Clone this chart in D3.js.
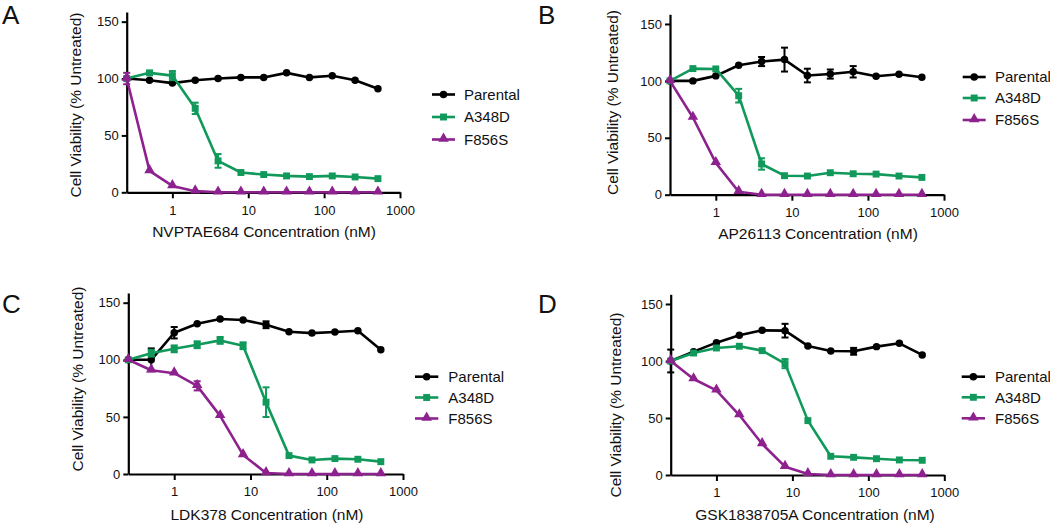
<!DOCTYPE html>
<html>
<head>
<meta charset="utf-8">
<script src="https://cdn.jsdelivr.net/npm/d3@7"></script>
<style>
  html, body { margin: 0; padding: 0; background: #fff; }
  svg { display: block; font-family: "Liberation Sans", Arial, Helvetica, sans-serif; }
</style>
</head>
<body>
<svg id="chart" width="1050" height="525"></svg>
<script>
// ---------- data ----------
const concentrations = [0.25, 0.5, 1, 2, 4, 8, 16, 32, 64, 128, 256, 512];
const seriesNames = ["Parental", "A348D", "F856S"];
const drugs = ["NVPTAE684", "AP26113", "LDK378", "GSK1838705A"];
const panelLetters = ["A", "B", "C", "D"];
const xTickValues = [1, 10, 100, 1000];
const yTickValues = [0, 50, 100, 150];

const A_parental = [100, 98.5, 96, 98.5, 100, 101, 101, 105, 101, 102.5, 98.5, 91];
const A_parental_err = [0, 0, 0, 0, 0, 0, 0, 0, 0, 0, 0, 0];
const A_a348d = [100, 105, 102.6, 73.8, 27.6, 17.4, 15.6, 14.4, 13.8, 14.4, 13.5, 12];
const A_a348d_err = [0, 1.5, 4, 5, 6, 0, 0, 0, 0, 0, 0, 0];
const A_f856s = [100, 18.8, 5.6, 1, 0, 0, 0, 0, 0, 0, 0, 0];
const A_f856s_err = [5, 0, 0, 0, 0, 0, 0, 0, 0, 0, 0, 0];

const B_parental = [100, 100, 104.4, 113.7, 117, 118.7, 104.7, 106, 108, 104, 105.8, 103.2];
const B_parental_err = [0, 0, 0, 0, 4, 10.5, 6, 4, 5, 0, 0, 0];
const B_a348d = [100, 110.8, 110.5, 87, 27, 16.7, 16.4, 19.3, 18.4, 18.1, 16.4, 15.2];
const B_a348d_err = [0, 0, 0, 6, 5, 0, 0, 0, 0, 0, 0, 0];
const B_f856s = [100, 67.8, 28, 2.6, 0, 0, 0, 0, 0, 0, 0, 0];
const B_f856s_err = [0, 0, 0, 0, 0, 0, 0, 0, 0, 0, 0, 0];

const C_parental = [100, 100, 123.7, 131.6, 135.7, 134.8, 130.7, 124.6, 123.4, 124.3, 125.4, 108.8];
const C_parental_err = [0, 10, 5, 0, 0, 0, 3, 0, 0, 0, 0, 0];
const C_a348d = [100, 105.8, 109.6, 113.2, 117, 112.3, 62.9, 16.1, 12.3, 13.5, 12.9, 10.8];
const C_a348d_err = [0, 3, 3, 3, 3, 3, 13, 0, 0, 0, 0, 0];
const C_f856s = [100, 90.9, 88.3, 77.2, 50.9, 16.7, 0.9, 0, 0, 0, 0, 0];
const C_f856s_err = [0, 0, 0, 4, 0, 0, 0, 0, 0, 0, 0, 0];

const D_parental = [100, 108.2, 116.1, 122.5, 126.9, 126.6, 113.2, 108.8, 108.5, 112.6, 115.5, 105.3];
const D_parental_err = [10, 0, 0, 0, 0, 6, 0, 0, 3, 0, 0, 0];
const D_a348d = [100, 107, 111.4, 112.9, 109.1, 97.7, 47.7, 16.4, 15.5, 14.3, 13.2, 12.9];
const D_a348d_err = [0, 0, 0, 0, 0, 4, 0, 0, 0, 0, 0, 0];
const D_f856s = [100, 84.2, 74.3, 52.6, 27.2, 7.3, 0.9, 0, 0, 0, 0, 0];
const D_f856s_err = [0, 0, 0, 0, 0, 0, 0, 0, 0, 0, 0, 0];

const panelValues = [
  [A_parental, A_a348d, A_f856s],
  [B_parental, B_a348d, B_f856s],
  [C_parental, C_a348d, C_f856s],
  [D_parental, D_a348d, D_f856s]
];
const panelErrors = [
  [A_parental_err, A_a348d_err, A_f856s_err],
  [B_parental_err, B_a348d_err, B_f856s_err],
  [C_parental_err, C_a348d_err, C_f856s_err],
  [D_parental_err, D_a348d_err, D_f856s_err]
];

// ---------- layout / style ----------
const colors = ["#000000", "#10995a", "#8d228f"];
const symbols = [d3.symbolCircle, d3.symbolSquare, d3.symbolTriangle];
const symbolSizes = [44, 48, 48];
const yMax = 158.5;
const layout = [
  { x0: 126.7, x1: 400, y0: 192.3, yTop: 12.0, letter: [2, 24], yTitle: [81, 105], xTitle: [264, 237],
    leg: { l1: 432, l2: 455, tx: 464, rows: [94.5, 117, 139.5] } },
  { x0: 670, x1: 944, y0: 194.7, yTop: 14.3, letter: [538, 24], yTitle: [618, 102.5], xTitle: [818, 239],
    leg: { l1: 962.7, l2: 985.7, tx: 995, rows: [77, 98, 120] } },
  { x0: 128.3, x1: 403, y0: 474, yTop: 293, letter: [2, 313], yTitle: [83, 379], xTitle: [267, 519.5],
    leg: { l1: 415, l2: 438.3, tx: 448.3, rows: [376.7, 397.5, 418.5] } },
  { x0: 670.7, x1: 944.3, y0: 475, yTop: 294.3, letter: [538, 313], yTitle: [621, 405], xTitle: [815, 520],
    leg: { l1: 961.7, l2: 985, tx: 995, rows: [376.7, 397.3, 418.3] } }
];

const svg = d3.select("#chart");

layout.forEach((L, p) => {
  const g = svg.append("g");
  const x = d3.scaleLog().domain([0.25, 1000]).range([L.x0, L.x1]);
  const y = d3.scaleLinear().domain([0, yMax]).range([L.y0, L.yTop]);

  // axes
  const xAxis = d3.axisBottom(x).tickValues(xTickValues).tickFormat(d3.format("d"))
    .tickSize(6).tickPadding(7).tickSizeOuter(0);
  const yAxis = d3.axisLeft(y).tickValues(yTickValues).tickSize(5).tickPadding(3).tickSizeOuter(0);

  const gx = g.append("g").attr("transform", `translate(0,${L.y0})`).call(xAxis);
  const gy = g.append("g").attr("transform", `translate(${L.x0},0)`).call(yAxis);
  [gx, gy].forEach(a => {
    a.select(".domain").attr("stroke", "#000").attr("stroke-width", 2.2);
    a.selectAll(".tick line").attr("stroke", "#000").attr("stroke-width", 2);
    a.selectAll(".tick text").attr("fill", "#111").style("font-size", "13px")
      .style("font-family", '"Liberation Sans", Arial, sans-serif');
  });

  // series
  seriesNames.forEach((name, s) => {
    const vals = panelValues[p][s];
    const errs = panelErrors[p][s];
    const pts = concentrations.map((c, i) => ({ c, v: vals[i], e: errs[i] }));
    const sg = g.append("g");
    sg.append("path")
      .datum(pts)
      .attr("fill", "none")
      .attr("stroke", colors[s])
      .attr("stroke-width", 2.6)
      .attr("stroke-linejoin", "round")
      .attr("d", d3.line().x(d => x(d.c)).y(d => y(d.v)));
    // error bars
    const eb = sg.selectAll(".eb").data(pts.filter(d => d.e > 0)).enter().append("g");
    eb.append("line")
      .attr("x1", d => x(d.c)).attr("x2", d => x(d.c))
      .attr("y1", d => y(d.v - d.e)).attr("y2", d => y(d.v + d.e))
      .attr("stroke", colors[s]).attr("stroke-width", 2);
    [-1, 1].forEach(sign => {
      eb.append("line")
        .attr("x1", d => x(d.c) - 3.5).attr("x2", d => x(d.c) + 3.5)
        .attr("y1", d => y(d.v + sign * d.e)).attr("y2", d => y(d.v + sign * d.e))
        .attr("stroke", colors[s]).attr("stroke-width", 2);
    });
    // markers
    sg.selectAll(".m").data(pts).enter().append("path")
      .attr("transform", d => `translate(${x(d.c)},${y(d.v) + (s === 2 ? -0.8 : 0)})`)
      .attr("d", d3.symbol().type(symbols[s]).size(symbolSizes[s]))
      .attr("fill", colors[s]);

    // legend
    const ly = L.leg.rows[s];
    g.append("line")
      .attr("x1", L.leg.l1).attr("x2", L.leg.l2).attr("y1", ly).attr("y2", ly)
      .attr("stroke", colors[s]).attr("stroke-width", 2.6);
    g.append("path")
      .attr("transform", `translate(${(L.leg.l1 + L.leg.l2) / 2},${ly + (s === 2 ? -0.8 : 0)})`)
      .attr("d", d3.symbol().type(symbols[s]).size(symbolSizes[s]))
      .attr("fill", colors[s]);
    g.append("text")
      .attr("x", L.leg.tx).attr("y", ly).attr("dy", "0.36em")
      .style("font-size", "15px").attr("fill", "#111")
      .text(name);
  });

  // titles
  g.append("text")
    .attr("transform", `translate(${L.yTitle[0]},${L.yTitle[1]}) rotate(-90)`)
    .attr("text-anchor", "middle")
    .style("font-size", "15.5px").attr("fill", "#111")
    .text("Cell Viability (% Untreated)");
  g.append("text")
    .attr("x", L.xTitle[0]).attr("y", L.xTitle[1])
    .attr("text-anchor", "middle")
    .style("font-size", "15.5px").attr("fill", "#111")
    .text(drugs[p] + " Concentration (nM)");
  g.append("text")
    .attr("x", L.letter[0]).attr("y", L.letter[1])
    .style("font-size", "26px").attr("fill", "#111")
    .text(panelLetters[p]);
});
</script>
</body>
</html>
